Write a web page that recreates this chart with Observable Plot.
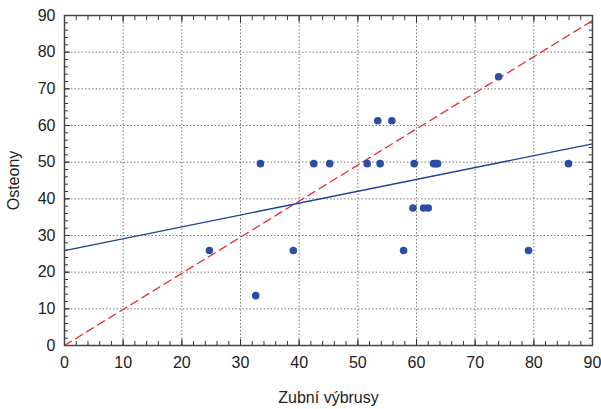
<!DOCTYPE html>
<html>
<head>
<meta charset="utf-8">
<script src="https://cdn.jsdelivr.net/npm/d3@7"></script>
<script src="https://cdn.jsdelivr.net/npm/@observablehq/plot@0.6"></script>
<style>
  html, body { margin: 0; padding: 0; background: #fff; }
  #chart svg { display: block; }
</style>
</head>
<body>
<div id="chart"></div>
<script>
// Scatter data: Zubní výbrusy (x) vs Osteony (y)
const xVals = [24.7, 32.6, 33.4, 39.0, 42.5, 45.2, 51.6, 53.4, 53.8, 55.8, 57.8, 59.4, 59.6, 61.2, 62.0, 62.9, 63.3, 63.6, 74.0, 79.1, 85.9];
const yVals = [25.9, 13.6, 49.6, 25.9, 49.6, 49.6, 49.6, 61.3, 49.6, 61.3, 25.9, 37.5, 49.6, 37.5, 37.5, 49.6, 49.6, 49.6, 73.3, 25.9, 49.6];
// Regression line (blue) endpoints
const fitX = [0, 90];
const fitY = [25.9, 55.0];
// Reference line (red dashed) endpoints
const refX = [0, 90];
const refY = [0, 88.6];
// Tick values
const majorTicks = [0, 10, 20, 30, 40, 50, 60, 70, 80, 90];
const minorTicks = d3.range(0, 91, 2);

const points = xVals.map((x, i) => ({x, y: yVals[i]}));
const fit = fitX.map((x, i) => ({x, y: fitY[i]}));
const ref = refX.map((x, i) => ({x, y: refY[i]}));

const font = "'Liberation Sans', Arial, sans-serif";
const tickColor = "#333";

const chart = Plot.plot({
  width: 601,
  height: 409,
  marginLeft: 64,
  marginRight: 9,
  marginTop: 15,
  marginBottom: 64,
  style: {fontFamily: font, fontSize: "16px", color: "#222", background: "#fff"},
  x: {domain: [0, 90]},
  y: {domain: [0, 90]},
  marks: [
    // grid
    Plot.gridX(majorTicks, {stroke: "#777", strokeOpacity: 1, strokeDasharray: "1.5,2", strokeWidth: 1}),
    Plot.gridY(majorTicks, {stroke: "#777", strokeOpacity: 1, strokeDasharray: "1.5,2", strokeWidth: 1}),
    // minor inward ticks, all four sides
    Plot.axisX(minorTicks, {anchor: "bottom", tickSize: -4, text: null, stroke: tickColor, label: null}),
    Plot.axisX(minorTicks, {anchor: "top", tickSize: -4, text: null, stroke: tickColor, label: null}),
    Plot.axisY(minorTicks, {anchor: "left", tickSize: -4, text: null, stroke: tickColor, label: null}),
    Plot.axisY(minorTicks, {anchor: "right", tickSize: -4, text: null, stroke: tickColor, label: null}),
    // major inward ticks
    Plot.axisX(majorTicks, {anchor: "bottom", tickSize: -6, text: null, stroke: tickColor, label: null}),
    Plot.axisX(majorTicks, {anchor: "top", tickSize: -6, text: null, stroke: tickColor, label: null}),
    Plot.axisY(majorTicks, {anchor: "left", tickSize: -6, text: null, stroke: tickColor, label: null}),
    Plot.axisY(majorTicks, {anchor: "right", tickSize: -6, text: null, stroke: tickColor, label: null}),
    // tick labels
    Plot.axisX(majorTicks, {anchor: "bottom", tickSize: 0, tickPadding: 11, fontSize: 16, fill: "#222",
      label: "Zubní výbrusy", labelAnchor: "center", labelArrow: "none", labelOffset: 57}),
    Plot.axisY(majorTicks, {anchor: "left", tickSize: 0, tickPadding: 9, fontSize: 16, fill: "#222",
      label: "Osteony", labelAnchor: "center", labelArrow: "none", labelOffset: 57}),
    // lines
    Plot.line(ref, {x: "x", y: "y", stroke: "#e8262b", strokeWidth: 1.3, strokeDasharray: "8,5"}),
    Plot.line(fit, {x: "x", y: "y", stroke: "#1f3e9a", strokeWidth: 1.3}),
    // points
    Plot.dot(points, {x: "x", y: "y", r: 3.8, fill: "#2b4ea2", stroke: "none"}),
    // frame
    Plot.frame({stroke: "#444", strokeWidth: 1.5})
  ]
});
document.getElementById("chart").appendChild(chart);
</script>
</body>
</html>
